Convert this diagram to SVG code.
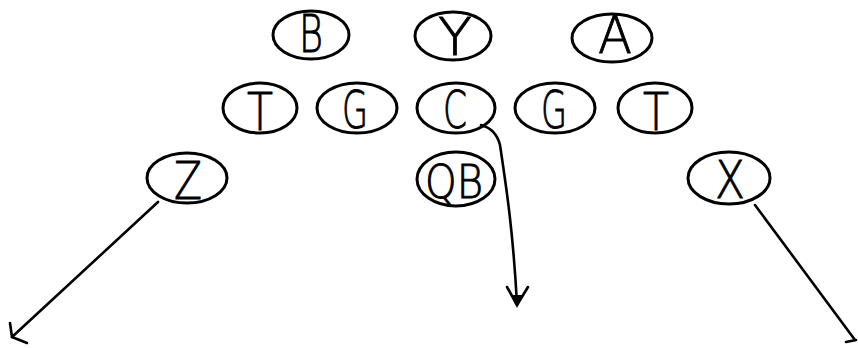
<svg xmlns="http://www.w3.org/2000/svg" width="858" height="348" viewBox="0 0 858 348">
  <style>
    .pos ellipse { fill: none; stroke: #000; stroke-width: 3; }
    .pos text { font-family: "DejaVu Sans", "Liberation Sans", sans-serif; font-weight: 200; font-size: 52px; fill: #000; stroke: #000; stroke-width: 0.9; text-anchor: middle; }
    .route { fill: none; stroke: #000; stroke-width: 2.6; stroke-linecap: round; stroke-linejoin: round; }
  </style>
  <rect width="858" height="348" fill="#fff"/>

  <!-- defensive/linebacker row -->
  <g id="node-B" class="pos">
    <ellipse cx="311" cy="35" rx="38" ry="24"/>
    <text x="311" y="52" textLength="24" lengthAdjust="spacingAndGlyphs">B</text>
  </g>
  <g id="node-Y" class="pos">
    <ellipse cx="453" cy="36" rx="38" ry="24"/>
    <text x="455" y="55" textLength="34" lengthAdjust="spacingAndGlyphs">Y</text>
  </g>
  <g id="node-A" class="pos">
    <ellipse cx="612" cy="38" rx="40" ry="24"/>
    <text x="615" y="53" textLength="34" lengthAdjust="spacingAndGlyphs">A</text>
  </g>

  <!-- line -->
  <g id="node-T1" class="pos">
    <ellipse cx="260" cy="108" rx="37" ry="25"/>
    <text x="260" y="130" textLength="26" lengthAdjust="spacingAndGlyphs">T</text>
  </g>
  <g id="node-G1" class="pos">
    <ellipse cx="357" cy="108" rx="40" ry="25"/>
    <text x="355" y="128" textLength="26" lengthAdjust="spacingAndGlyphs">G</text>
  </g>
  <g id="node-C" class="pos">
    <ellipse cx="456" cy="108" rx="39" ry="25"/>
    <text x="455" y="128" textLength="24" lengthAdjust="spacingAndGlyphs">C</text>
  </g>
  <g id="node-G2" class="pos">
    <ellipse cx="555" cy="108" rx="40" ry="25"/>
    <text x="554" y="128" textLength="26" lengthAdjust="spacingAndGlyphs">G</text>
  </g>
  <g id="node-T2" class="pos">
    <ellipse cx="655" cy="108" rx="37" ry="25"/>
    <text x="656" y="130" textLength="26" lengthAdjust="spacingAndGlyphs">T</text>
  </g>

  <!-- backfield and receivers -->
  <g id="node-Z" class="pos">
    <ellipse cx="187" cy="178" rx="40" ry="25"/>
    <text x="188" y="199" textLength="28" lengthAdjust="spacingAndGlyphs">Z</text>
  </g>
  <g id="node-QB" class="pos">
    <ellipse cx="456" cy="179" rx="39" ry="27"/>
    <text x="454" y="198" textLength="58" lengthAdjust="spacingAndGlyphs" style="font-size:46px">QB</text>
  </g>
  <g id="node-X" class="pos">
    <ellipse cx="729" cy="178" rx="41" ry="26"/>
    <text x="730" y="198" textLength="30" lengthAdjust="spacingAndGlyphs">X</text>
  </g>

  <!-- routes -->
  <g id="connectors">
    <!-- Z route with open arrowhead -->
    <path class="route" d="M158,202 L12,337"/>
    <path class="route" d="M10,323 L12,337 L27,343"/>
    <!-- C route curving down past QB -->
    <path class="route" d="M481,125 Q496,129 500,145 C506,185 513,230 517,304"/>
    <path class="route" d="M507,287 L517,305 L528,287"/>
    <path d="M511,295 L517,308 L523,295 Z" fill="#000"/>
    <!-- X route -->
    <path class="route" d="M755,205 L855,340"/>
    <path class="route" d="M846,342 L856,340"/>
  </g>
</svg>
